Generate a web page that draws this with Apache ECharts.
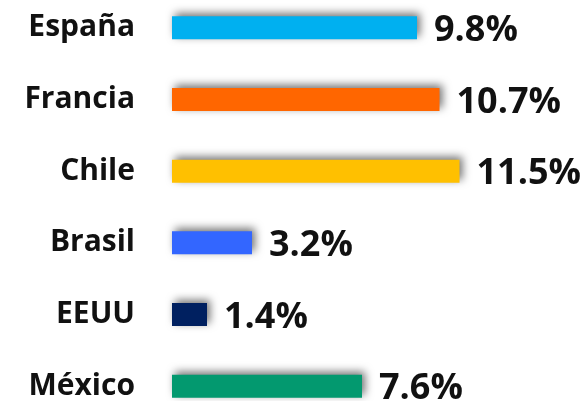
<!DOCTYPE html>
<html>
<head>
<meta charset="utf-8">
<script src="https://cdn.jsdelivr.net/npm/echarts@6/dist/echarts.min.js"></script>
<style>
html,body{margin:0;padding:0;background:#fff;}
#chart{width:585px;height:401px;}
</style>
</head>
<body>
<div id="chart"></div>
<script>
var paises = ["España", "Francia", "Chile", "Brasil", "EEUU", "México"];
var valores = [9.8, 10.7, 11.5, 3.2, 1.4, 7.6];
var colores = ["#00B0F0", "#FF6600", "#FFC000", "#3366FF", "#002060", "#03996F"];

var myChart = echarts.init(document.getElementById("chart"));

var datos = [];
for (var i = 0; i < valores.length; i++) {
	datos.push({
		value: valores[i],
		itemStyle: { color: colores[i] }
	});
}

var option = {
	animation: false,
	grid: {
		left: 172,
		right: 13,
		top: -8,
		bottom: -21,
		outerBoundsMode: 'none',
		containLabel: false
	},
	xAxis: {
		type: 'value',
		min: 0,
		max: 16,
		show: false
	},
	yAxis: {
		type: 'category',
		inverse: true,
		data: paises,
		axisLine: { show: false },
		axisTick: { show: false },
		axisLabel: {
			margin: 37,
			color: '#111',
			fontSize: 30,
			fontWeight: 'bold',
			fontFamily: 'Open Sans'
		}
	},
	series: [
		{
			type: 'bar',
			data: datos,
			barWidth: 23,
			itemStyle: {
				shadowColor: 'rgba(0,0,0,0.55)',
				shadowBlur: 8,
				shadowOffsetX: 3,
				shadowOffsetY: -3
			},
			label: {
				show: true,
				position: 'right',
				distance: 17,
				offset: [0, 3],
				color: '#111',
				fontSize: 36,
				fontWeight: 'bold',
				fontFamily: 'Open Sans',
				formatter: function (p) {
					return p.value.toFixed(1) + '%';
				}
			}
		}
	]
};
myChart.setOption(option);
</script>
</body>
</html>
